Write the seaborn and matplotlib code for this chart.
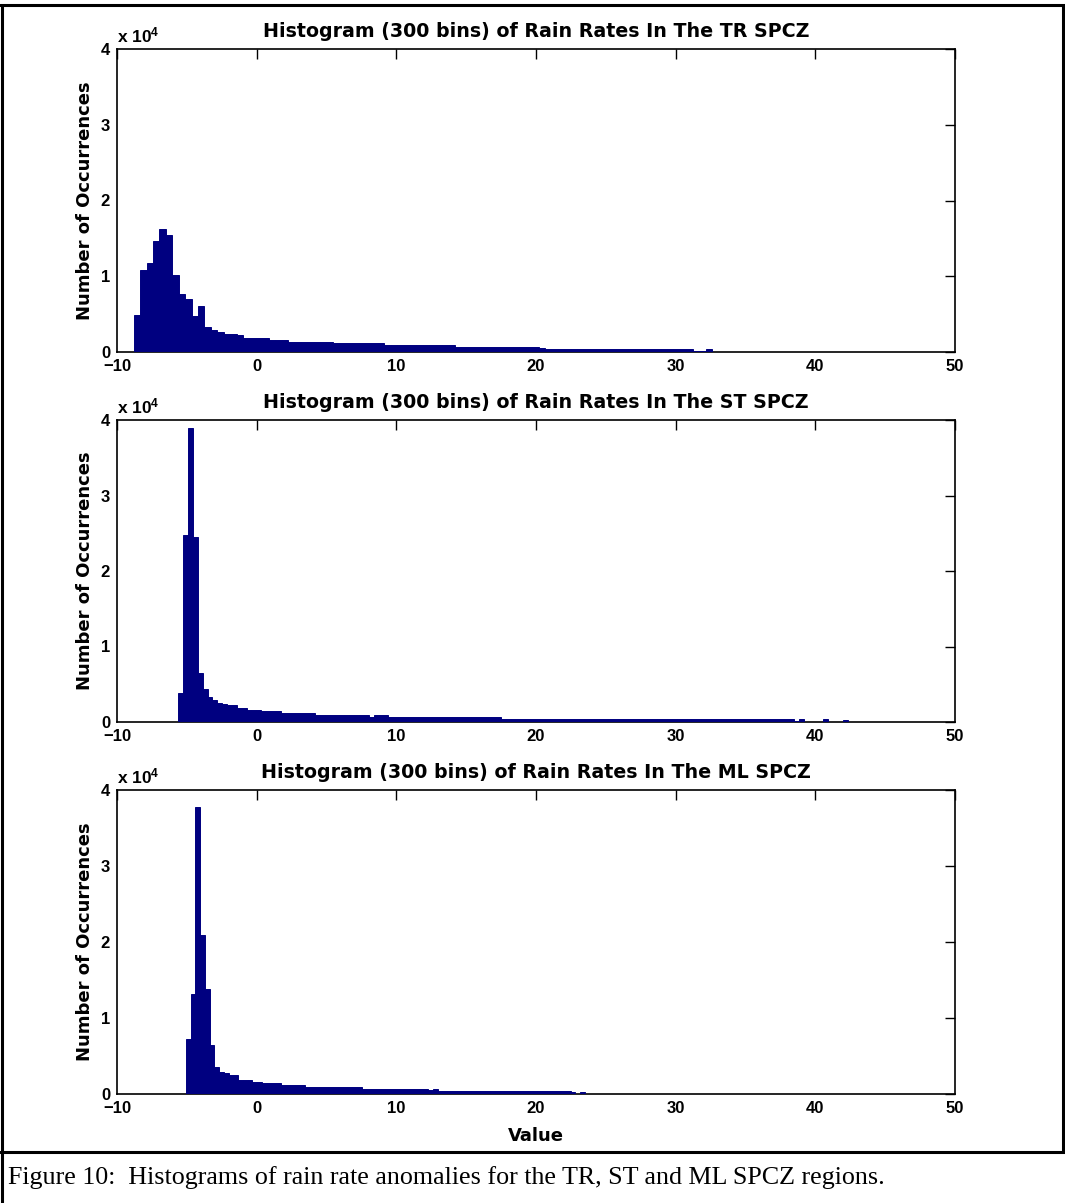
import numpy as np
import pandas as pd
import matplotlib
matplotlib.use('Agg')
import matplotlib.pyplot as plt
from matplotlib.lines import Line2D
import seaborn as sns

# DATA
# Histogram counts (bars left of x=50 only).
# Peak bars are listed one by one, the long flat tail as (level, number of bins).
tr_start, tr_width = -8.80, 0.46
tr_peak = [4900, 10800, 11700, 14600, 16300, 15500, 10100, 7700, 7000, 4800,
           6100, 3300, 2900, 2600, 2400]
tr_tail_levels = [2400, 2200, 1870, 1600, 1380, 1150, 930, 710, 580, 400, 130, 400, 40]
tr_tail_runs = [1, 1, 4, 3, 7, 8, 11, 13, 1, 23, 2, 1, 38]

st_start, st_width = -5.62, 0.35
st_peak = [3850, 24800, 39000, 24500, 6500, 4400, 3300, 2950]
st_tail_levels = [2500, 2350, 2220, 1870, 1800, 1640, 1420, 1200, 930, 670, 890, 670,
                  360, 80, 350, 60, 350, 60, 300, 20]
st_tail_runs = [1, 1, 2, 1, 1, 3, 4, 7, 11, 1, 3, 23, 60, 1, 1, 4, 1, 3, 1, 22]

ml_start, ml_width = -5.06, 0.34
ml_peak = [7200, 13100, 37800, 20900, 13800, 6500, 3600, 2950, 2700]
ml_tail_levels = [2440, 1860, 1640, 1420, 1240, 980, 670, 500, 670, 440, 220, 60, 200, 20]
ml_tail_runs = [2, 3, 2, 4, 5, 12, 14, 1, 1, 28, 1, 1, 1, 78]

regions = ['TR', 'ST', 'ML']
x_ticks = [-10, 0, 10, 20, 30, 40, 50]
y_ticks = [0, 1, 2, 3, 4]

caption = 'Figure 10:  Histograms of rain rate anomalies for the TR, ST and ML SPCZ regions.'

# STYLE
sns.set_style('white')
plt.rcParams['font.family'] = ['Liberation Sans', 'DejaVu Sans']
plt.rcParams['font.weight'] = 'bold'
plt.rcParams['text.color'] = 'black'
plt.rcParams['axes.labelcolor'] = 'black'
plt.rcParams['mathtext.fontset'] = 'custom'
plt.rcParams['mathtext.rm'] = 'Liberation Sans:bold'
plt.rcParams['mathtext.it'] = 'Liberation Sans:bold'
plt.rcParams['mathtext.bf'] = 'Liberation Sans:bold'

bar_face = '#000080'
label_font = ['DejaVu Sans']

fig = plt.figure(figsize=(10.65, 12.03), dpi=100)
W, H = 1065, 1203
left, right = 117, 955
tops = [49, 420, 790]
bottoms = [352, 722, 1094]

datasets = [
    (tr_start, tr_width, tr_peak, tr_tail_levels, tr_tail_runs),
    (st_start, st_width, st_peak, st_tail_levels, st_tail_runs),
    (ml_start, ml_width, ml_peak, ml_tail_levels, ml_tail_runs),
]

for i, (start, width, peak, levels, runs) in enumerate(datasets):
    counts = np.concatenate([peak, np.repeat(levels, runs)])
    edges = start + width * np.arange(len(counts) + 1)
    df = pd.DataFrame({'value': (edges[:-1] + edges[1:]) / 2, 'count': counts})
    ax = fig.add_axes([left / W, 1 - bottoms[i] / H,
                       (right - left) / W, (bottoms[i] - tops[i]) / H])
    sns.histplot(data=df, x='value', weights='count', bins=edges.tolist(), ax=ax,
                 color=bar_face, edgecolor=bar_face, linewidth=0.7, alpha=1,
                 zorder=3)
    ax.set_xlim(-10, 50)
    ax.set_ylim(0, 40000)
    ax.set_xticks(x_ticks)
    ax.set_xticklabels([f'{t}' if t >= 0 else f'\u2212{-t}' for t in x_ticks])
    ax.set_yticks([t * 10000 for t in y_ticks])
    ax.set_yticklabels([str(t) for t in y_ticks])
    ax.tick_params(direction='in', top=True, right=True, length=7, width=1,
                   labelsize=12, pad=5, colors='black')
    for sp in ax.spines.values():
        sp.set_visible(True)
        sp.set_color('black')
        sp.set_linewidth(1.2)
    ax.set_ylabel('Number of Occurrences', fontsize=13, fontweight='bold',
                  family=label_font, labelpad=5)
    ax.set_xlabel('Value' if i == 2 else '', fontsize=13, fontweight='bold',
                  family=label_font, labelpad=8)
    ax.set_title(f'Histogram (300 bins) of Rain Rates In The {regions[i]} SPCZ',
                 fontsize=13.7, fontweight='bold', family=label_font, pad=8.5)
    ax.text(0.0, 1.012, r'x 10$^4$', transform=ax.transAxes, ha='left', va='bottom',
            fontsize=12.5, fontweight='bold')

# page frame and caption
frame = dict(color='black', linewidth=2.2, transform=fig.transFigure)
fig.add_artist(Line2D([0, 1], [1 - 5 / H, 1 - 5 / H], **frame))
fig.add_artist(Line2D([2 / W, 2 / W], [0, 1 - 5 / H], **frame))
fig.add_artist(Line2D([1 - 2 / W, 1 - 2 / W], [1 - 1152 / H, 1 - 5 / H], **frame))
fig.add_artist(Line2D([0, 1], [1 - 1152 / H, 1 - 1152 / H], **frame))
fig.text(8 / W, 1 - 1178 / H, caption, ha='left', va='center', fontsize=18.7,
         fontweight='normal', family=['Liberation Serif', 'DejaVu Serif'])

fig.savefig('out.png', dpi=100, facecolor='white')
